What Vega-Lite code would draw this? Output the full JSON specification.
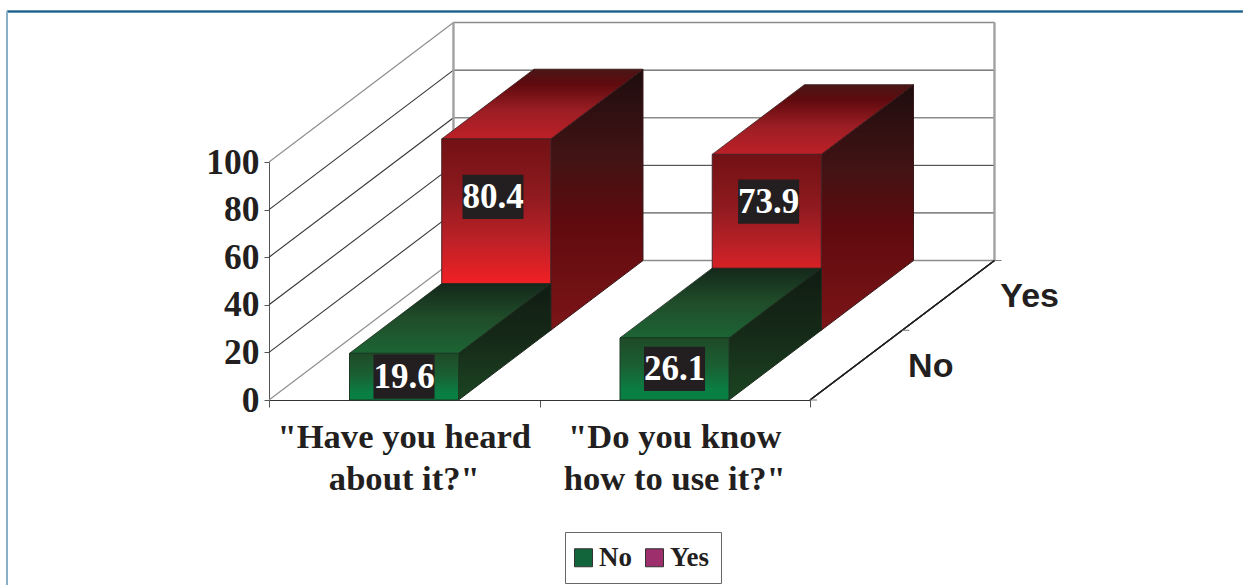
{
"$schema":"https://vega.github.io/schema/vega-lite/v6.json",
"width":541,"height":238,
"autosize":"none",
"padding":{"left":269,"top":162,"right":433,"bottom":185},
"background":"#ffffff",
"view":{"stroke":null},
"datasets":{
"levels":[{"level":0},{"level":20},{"level":40},{"level":60},{"level":80},{"level":100}],
"depths":[{"response":"No","depth":0.5},{"response":"Yes","depth":1.5}],
"floorTicks":[{"depth":0},{"depth":1},{"depth":2}],
"questions":[{"question":"\"Have you heard\nabout it?\"","at":0.5},{"question":"\"Do you know\nhow to use it?\"","at":1.5}]
},
"data":{"values":[
{"question":"Have you heard about it?","questionIndex":0,"response":"Yes","value":80.4},
{"question":"Do you know how to use it?","questionIndex":1,"response":"Yes","value":73.9},
{"question":"Have you heard about it?","questionIndex":0,"response":"No","value":19.6},
{"question":"Do you know how to use it?","questionIndex":1,"response":"No","value":26.1}
]},
"transform":[
{"calculate":"datum.response==='Yes'?1:0","as":"slot"},
{"calculate":"datum.questionIndex+0.2976+datum.slot*0.341","as":"left"},
{"calculate":"datum.questionIndex+0.7006+datum.slot*0.341","as":"right"},
{"calculate":"datum.slot*29.3","as":"base"},
{"calculate":"datum.base+datum.value","as":"top"},
{"calculate":"0","as":"near"},
{"calculate":"1","as":"far"}
],
"layer":[
{"description":"outer frame, top edge","mark":{"type":"rule","stroke":"#1f5f8b","strokeWidth":1.5},
"encoding":{"x":{"datum":-0.9686,"type":"quantitative","scale":{"domain":[0,2]},"axis":{"values":[0,1,2],"labels":false,"title":null,"grid":false,"domainColor":"#333333","tickColor":"#555555","tickSize":7,"orient":"bottom"}},
"x2":{"datum":3.6},
"y":{"datum":163.2,"type":"quantitative","scale":{"domain":[0,100]},"axis":{"values":[0,20,40,60,80,100],"title":null,"grid":false,"domainColor":"#555555","tickColor":"#555555","tickSize":5,"labelFont":"Liberation Serif","labelFontWeight":"bold","labelFontSize":35.5,"labelColor":"#231f20","labelPadding":5,"labelOverlap":false,"orient":"left"}}}},
{"description":"outer frame, left edge","mark":{"type":"rule","stroke":"#8ab0c6","strokeWidth":2},
"encoding":{"x":{"datum":-0.9686,"type":"quantitative","scale":{"domain":[0,2]}},
"y":{"datum":163.2,"type":"quantitative","scale":{"domain":[0,100]}},"y2":{"datum":-78}}},
{"description":"gridlines on the left wall","data":{"name":"levels"},
"transform":[{"calculate":"datum.level+58.6","as":"backLevel"}],
"mark":{"type":"rule","strokeWidth":1.1},
"encoding":{"x":{"datum":0,"type":"quantitative","scale":{"domain":[0,2]}},"x2":{"datum":0.682},
"y":{"field":"level","type":"quantitative","scale":{"domain":[0,100]}},"y2":{"field":"backLevel"},
"stroke":{"condition":{"test":"datum.level===0||datum.level===100","value":"#8c8c8c"},"value":"#333333"}}},
{"description":"gridlines on the back wall","data":{"name":"levels"},
"transform":[{"calculate":"datum.level+58.6","as":"backLevel"}],
"mark":{"type":"rule"},
"encoding":{"x":{"datum":0.682,"type":"quantitative","scale":{"domain":[0,2]}},"x2":{"datum":2.682},
"y":{"field":"backLevel","type":"quantitative","scale":{"domain":[0,100]}},
"stroke":{"condition":{"test":"datum.level===0||datum.level===60||datum.level===100","value":"#8c8c8c"},"value":"#333333"},
"strokeWidth":{"condition":{"test":"datum.level===0||datum.level===60||datum.level===100","value":1.5},"value":1}}},
{"description":"back wall, left edge","mark":{"type":"rule","stroke":"#a0a0a0","strokeWidth":1.5},
"encoding":{"x":{"datum":0.682,"type":"quantitative","scale":{"domain":[0,2]}},
"y":{"datum":58.6,"type":"quantitative","scale":{"domain":[0,100]}},"y2":{"datum":158.6}}},
{"description":"back wall, right edge","mark":{"type":"rule","stroke":"#a0a0a0","strokeWidth":1.5},
"encoding":{"x":{"datum":2.682,"type":"quantitative","scale":{"domain":[0,2]}},
"y":{"datum":58.6,"type":"quantitative","scale":{"domain":[0,100]}},"y2":{"datum":158.6}}},
{"description":"right edge of the floor","mark":{"type":"rule","stroke":"#222222","strokeWidth":1.1},
"encoding":{"x":{"datum":2,"type":"quantitative","scale":{"domain":[0,2]}},"x2":{"datum":2.682},
"y":{"datum":0,"type":"quantitative","scale":{"domain":[0,100]}},"y2":{"datum":58.6}}},
{"description":"depth axis ticks","data":{"name":"floorTicks"},
"transform":[{"calculate":"2+datum.depth*0.341","as":"tx"},{"calculate":"datum.tx+0.026","as":"tx2"},{"calculate":"datum.depth*29.3","as":"ty"}],
"mark":{"type":"rule","stroke":"#777777","strokeWidth":1},
"encoding":{"x":{"field":"tx","type":"quantitative","scale":{"domain":[0,2]}},"x2":{"field":"tx2"},
"y":{"field":"ty","type":"quantitative","scale":{"domain":[0,100]}}}},
{"description":"depth axis labels","data":{"name":"depths"},
"transform":[{"calculate":"2+datum.depth*0.341","as":"tx"},{"calculate":"datum.depth*29.3","as":"ty"}],
"mark":{"type":"text","font":"Liberation Sans","fontWeight":"bold","fontSize":34,"fill":"#231f20","align":"left","baseline":"alphabetic","dx":52,"dy":11.5},
"encoding":{"x":{"field":"tx","type":"quantitative","scale":{"domain":[0,2]}},
"y":{"field":"ty","type":"quantitative","scale":{"domain":[0,100]}},
"text":{"field":"response"}}},
{"description":"question labels","data":{"name":"questions"},
"transform":[{"calculate":"-20","as":"labelY"}],
"mark":{"type":"text","font":"Liberation Serif","fontWeight":"bold","fontSize":34.6,"fill":"#231f20","align":"center","baseline":"alphabetic","lineBreak":"\n","lineHeight":42.5},
"encoding":{"x":{"field":"at","type":"quantitative","scale":{"domain":[0,2]}},
"y":{"field":"labelY","type":"quantitative","scale":{"domain":[0,100]}},
"text":{"field":"question"}}},

{"description":"Yes bars, side","transform":[{"filter":"datum.response==='Yes'"},{"fold":["near","far"],"as":["edge","d"]},{"calculate":"datum.right+datum.d*0.341","as":"sx"},{"calculate":"datum.top+datum.d*29.3","as":"sy"},{"calculate":"datum.base+datum.d*29.3","as":"sb"}],
"mark":{"type":"area","orient":"vertical","stroke":"#3a1a1c","strokeWidth":1,"fill":{"gradient":"linear","x1":0,"y1":0,"x2":0,"y2":1,"stops":[{"offset":0,"color":"#1e0d0e"},{"offset":0.35,"color":"#431314"},{"offset":0.58,"color":"#5f0a0e"},{"offset":1,"color":"#7c1518"}]}},
"encoding":{"x":{"field":"sx","type":"quantitative","scale":{"domain":[0,2]}},
"y":{"field":"sy","type":"quantitative","scale":{"domain":[0,100]}},"y2":{"field":"sb"},"detail":{"field":"question"}}},
{"description":"Yes bars, top","transform":[{"filter":"datum.response==='Yes'"},{"fold":["near","far"],"as":["edge","d"]},{"calculate":"datum.left+datum.d*0.341","as":"sx"},{"calculate":"datum.right+datum.d*0.341","as":"sx2"},{"calculate":"datum.top+datum.d*29.3","as":"sy"}],
"mark":{"type":"area","orient":"horizontal","stroke":"#3a1a1c","strokeWidth":0.8,"fill":{"gradient":"linear","x1":0,"y1":0,"x2":0,"y2":1,"stops":[{"offset":0,"color":"#491616"},{"offset":0.22,"color":"#600a0e"},{"offset":0.6,"color":"#9c1e24"},{"offset":1,"color":"#bd2027"}]}},
"encoding":{"y":{"field":"sy","type":"quantitative","scale":{"domain":[0,100]}},
"x":{"field":"sx","type":"quantitative","scale":{"domain":[0,2]}},"x2":{"field":"sx2"},"detail":{"field":"question"}}},
{"description":"Yes bars, front","transform":[{"filter":"datum.response==='Yes'"}],
"mark":{"type":"rect","stroke":"#4a2226","strokeWidth":1,"fill":{"gradient":"linear","x1":0,"y1":0,"x2":0,"y2":1,"stops":[{"offset":0,"color":"#721114"},{"offset":0.3,"color":"#8f1a1f"},{"offset":0.53,"color":"#bc2127"},{"offset":0.74,"color":"#ed2024"},{"offset":1,"color":"#ed2024"}]}},
"encoding":{"x":{"field":"left","type":"quantitative","scale":{"domain":[0,2]}},"x2":{"field":"right"},
"y":{"field":"top","type":"quantitative","scale":{"domain":[0,100]}},"y2":{"field":"base"}}},
{"description":"No bars, side","transform":[{"filter":"datum.response==='No'"},{"fold":["near","far"],"as":["edge","d"]},{"calculate":"datum.right+datum.d*0.341","as":"sx"},{"calculate":"datum.top+datum.d*29.3","as":"sy"},{"calculate":"datum.base+datum.d*29.3","as":"sb"}],
"mark":{"type":"area","orient":"vertical","stroke":"#1d2a1f","strokeWidth":1,"fill":{"gradient":"linear","x1":0,"y1":0,"x2":0,"y2":1,"stops":[{"offset":0,"color":"#101c12"},{"offset":0.5,"color":"#162a18"},{"offset":1,"color":"#1b4522"}]}},
"encoding":{"x":{"field":"sx","type":"quantitative","scale":{"domain":[0,2]}},
"y":{"field":"sy","type":"quantitative","scale":{"domain":[0,100]}},"y2":{"field":"sb"},"detail":{"field":"question"}}},
{"description":"No bars, top","transform":[{"filter":"datum.response==='No'"},{"fold":["near","far"],"as":["edge","d"]},{"calculate":"datum.left+datum.d*0.341","as":"sx"},{"calculate":"datum.right+datum.d*0.341","as":"sx2"},{"calculate":"datum.top+datum.d*29.3","as":"sy"}],
"mark":{"type":"area","orient":"horizontal","stroke":"#1d2a1f","strokeWidth":0.8,"fill":{"gradient":"linear","x1":0,"y1":0,"x2":0,"y2":1,"stops":[{"offset":0,"color":"#14281a"},{"offset":0.5,"color":"#204d2a"},{"offset":1,"color":"#1c6534"}]}},
"encoding":{"y":{"field":"sy","type":"quantitative","scale":{"domain":[0,100]}},
"x":{"field":"sx","type":"quantitative","scale":{"domain":[0,2]}},"x2":{"field":"sx2"},"detail":{"field":"question"}}},
{"description":"No bars, front","transform":[{"filter":"datum.response==='No'"}],
"mark":{"type":"rect","stroke":"#1d3a24","strokeWidth":1,"fill":{"gradient":"linear","x1":0,"y1":0,"x2":0,"y2":1,"stops":[{"offset":0,"color":"#1f4a27"},{"offset":0.45,"color":"#1a5f32"},{"offset":0.85,"color":"#0a7f44"},{"offset":1,"color":"#0a7f44"}]}},
"encoding":{"x":{"field":"left","type":"quantitative","scale":{"domain":[0,2]}},"x2":{"field":"right"},
"y":{"field":"top","type":"quantitative","scale":{"domain":[0,100]}},"y2":{"field":"base"}}},

{"description":"dark plate behind each value","transform":[
{"calculate":"(datum.left+datum.right)/2+(datum.slot===1?(datum.questionIndex===0?-0.012:0.007):0)","as":"cx"},
{"calculate":"datum.base+(datum.slot===1?datum.value*0.3+31.9:datum.value/2)","as":"cy"},
{"calculate":"datum.cx-0.1128","as":"px"},{"calculate":"datum.cx+0.1128","as":"px2"},{"calculate":"datum.cy-9.3","as":"py"},{"calculate":"datum.cy+9.3","as":"py2"}],
"mark":{"type":"rect","fill":"#231f20"},
"encoding":{"x":{"field":"px","type":"quantitative","scale":{"domain":[0,2]}},"x2":{"field":"px2"},
"y":{"field":"py","type":"quantitative","scale":{"domain":[0,100]}},"y2":{"field":"py2"}}},
{"description":"value labels","transform":[
{"calculate":"(datum.left+datum.right)/2+(datum.slot===1?(datum.questionIndex===0?-0.012:0.007):0)","as":"cx"},
{"calculate":"datum.base+(datum.slot===1?datum.value*0.3+31.9:datum.value/2)","as":"cy"}],
"mark":{"type":"text","font":"Liberation Serif","fontWeight":"bold","fontSize":35,"fill":"#ffffff","align":"center","baseline":"middle"},
"encoding":{"x":{"field":"cx","type":"quantitative","scale":{"domain":[0,2]}},
"y":{"field":"cy","type":"quantitative","scale":{"domain":[0,100]}},
"text":{"field":"value","type":"quantitative","format":".1f"}}},
{"description":"legend carrier; the points themselves have no size","mark":{"type":"point","filled":true,"size":0,"opacity":1},
"encoding":{"x":{"datum":1,"type":"quantitative","scale":{"domain":[0,2]}},
"y":{"datum":50,"type":"quantitative","scale":{"domain":[0,100]}},
"color":{"field":"response","type":"nominal","scale":{"domain":["No","Yes"],"range":["#12653a","#9c2f6c"]},
"legend":{"title":null,"orient":"none","legendX":296,"legendY":370,"direction":"horizontal","columns":2,"columnPadding":11,"padding":12,"strokeColor":"#666666","fillColor":"#ffffff","symbolType":"square","symbolSize":324,"symbolOffset":-7,"symbolStrokeColor":"#333333","symbolStrokeWidth":1,"labelFont":"Liberation Serif","labelFontWeight":"bold","labelFontSize":27,"labelColor":"#231f20","labelOffset":2}}}}
]
}
